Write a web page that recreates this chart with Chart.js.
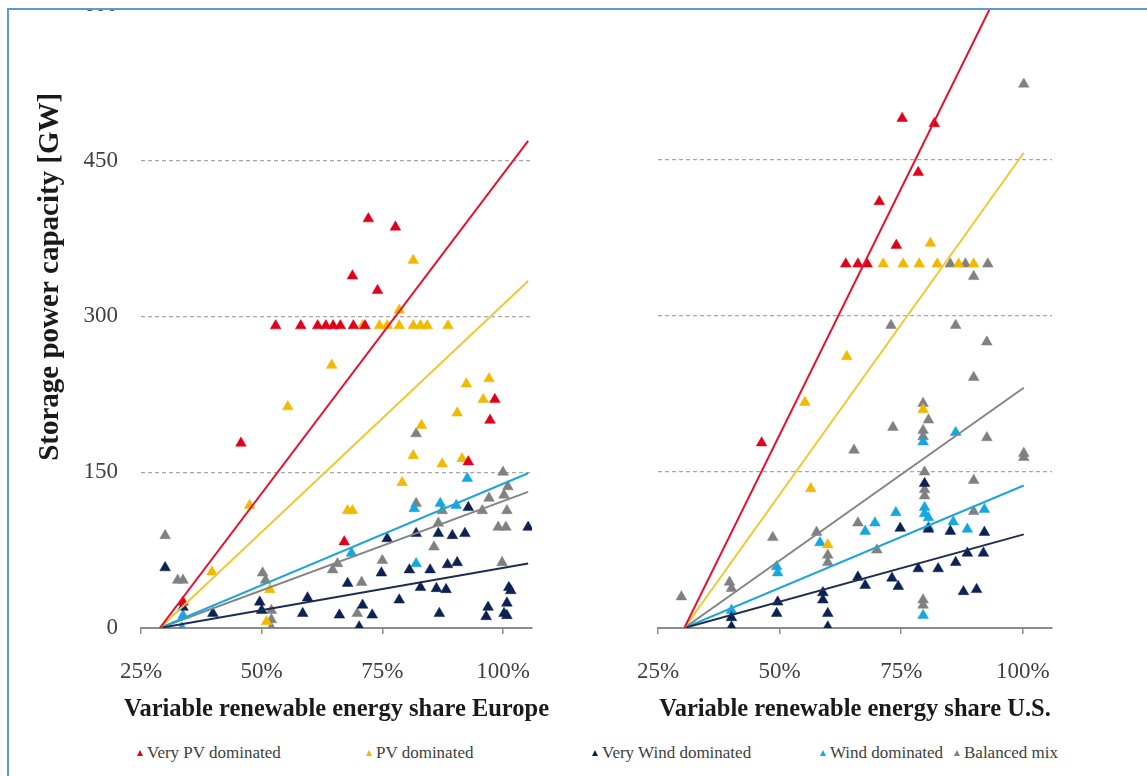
<!DOCTYPE html>
<html>
<head>
<meta charset="utf-8">
<script src="https://cdn.jsdelivr.net/npm/chart.js@4/dist/chart.umd.min.js"></script>
<style>
  html, body { margin: 0; padding: 0; background: #fff; width: 1147px; height: 776px; overflow: hidden; position: relative; font-family: "Liberation Serif", "Times New Roman", serif; }
  #eu { position: absolute; left: 10px; top: -32px; }
  #us { position: absolute; left: 570px; top: -20px; }
  #mask { position: absolute; left: 0; top: 0; width: 1147px; height: 8px; background: #fff; }
  #frameTop { position: absolute; left: 7px; top: 8px; width: 1140px; height: 2px; background: #5b9bd5; }
  #frameLeft { position: absolute; left: 7px; top: 8px; width: 2px; height: 768px; background: #5b9bd5; }
  .legend-item { position: absolute; top: 742px; font-size: 17px; color: #404040; line-height: 22px; white-space: nowrap; }
  .tri { display: inline-block; width: 0; height: 0; border-left: 3px solid transparent; border-right: 3px solid transparent; border-bottom: 6px solid; margin-right: 4px; vertical-align: 2px; }
</style>
</head>
<body>
<canvas id="eu" width="560" height="756"></canvas>
<canvas id="us" width="577" height="744"></canvas>
<div id="mask"></div>
<div id="frameTop"></div>
<div id="frameLeft"></div>
<div id="legend"></div>
<script>
// ---- axis ticks ----
const xTickValues = [25, 50, 75, 100];
const yTickValues = [0, 150, 300, 450, 600];

// ---- series labels and colours ----
const seriesNames = ['Very PV dominated', 'PV dominated', 'Very Wind dominated', 'Wind dominated', 'Balanced mix'];
const markerColors = ['#e0001a', '#f2b900', '#0c2252', '#16a7e0', '#808080'];
const lineColors = ['#e8112d', '#f2c733', '#1f2d50', '#1ea6d8', '#858585'];

// ---- Europe: [VRE share %, storage power GW] ----
const euVeryPV = [[33.7,25],[45.7,178],[52.9,291],[58.1,291],[61.6,291],[63.3,291],[64.8,291],[66.3,291],[69.0,291],[71.4,291],
  [68.8,339],[74.0,325],[72.1,394],[77.7,386],[67.1,83],[92.8,160],[97.3,200],[98.3,220]];
const euPV = [[39.7,54],[47.5,118],[55.4,213],[64.5,253],[67.8,113],[68.8,113],[70.9,291],[74.4,291],[76.0,291],[78.5,306],
  [78.5,291],[81.4,291],[82.9,291],[84.3,291],[88.6,291],[81.4,354],[79.1,140],[81.4,166],[83.1,195],[87.4,158],
  [90.5,207],[91.5,163],[92.4,235],[95.9,220],[97.1,240],[51.7,37],[51.0,6]];
const euVeryWind = [[30.0,58],[33.7,20],[39.9,14],[49.6,25],[50.0,17],[58.5,14],[59.5,29],[66.1,12.5],[67.8,43],[70.2,1],
  [70.9,22],[72.9,12.5],[74.8,53],[76.0,86],[78.5,27],[80.6,56],[82.0,91],[82.9,39],[84.9,56],[86.2,38],
  [86.6,91],[86.8,14],[88.2,37],[88.5,61],[89.5,89],[90.5,63],[92.1,91],[92.8,116],[96.5,11],[96.9,20],
  [100.2,14],[100.8,12],[100.8,24],[101.2,39],[101.6,36],[105.2,97]];
const euWind = [[33.5,0],[33.7,12],[68.6,72],[81.6,115],[82.0,62],[87.0,120],[90.3,118],[92.6,144]];
const euBalanced = [[30.0,89],[32.6,46],[33.7,46],[50.2,53],[50.8,46],[52.0,17],[52.0,8],[52.0,0],[64.7,56],[65.7,62],
  [69.8,14],[70.7,44],[75.0,65],[82.0,187],[82.0,120],[85.7,78],[86.6,101],[87.4,113],[95.7,113],[97.1,125],
  [99.8,63],[99.0,97],[100.6,97],[100.8,113],[100.2,128],[101.0,136],[100.0,150]];

// Europe trend lines: share at start/end and the fitted capacity at those points
const euTrendX = [28.9, 105.2];
const euTrendVeryPV = [0, 469];
const euTrendPV = [0, 334];
const euTrendVeryWind = [0, 62];
const euTrendWind = [0, 149];
const euTrendBalanced = [0, 131];

// ---- U.S.: [VRE share %, storage power GW] ----
const usVeryPV = [[46.3,178],[63.6,350],[66.1,350],[68.0,350],[70.5,410],[74.0,368],[75.2,490],[78.5,438],[81.8,485]];
const usPV = [[55.2,217],[56.4,134],[59.9,80],[63.8,261],[71.3,350],[75.4,350],[78.7,350],[81.0,370],[82.4,350],[86.8,350],
  [89.9,350],[79.5,210]];
const usVeryWind = [[40.1,10],[40.1,1],[49.6,25],[49.4,14],[58.9,34],[58.9,27],[59.9,14],[59.9,1],[66.1,49],[67.6,41],
  [73.1,48],[74.4,40],[74.8,96],[78.5,57],[79.8,139],[80.6,95],[82.6,57],[85.1,93],[86.2,63],[87.8,35],
  [88.6,72],[90.5,37],[91.9,72],[92.1,92]];
const usWind = [[40.1,17],[49.4,59],[49.6,53],[58.3,82],[67.6,93],[69.6,101],[73.9,111],[79.5,179],[79.8,116],[79.8,110],
  [79.5,12],[80.6,106],[80.6,97],[85.7,102],[86.2,188],[88.6,95],[92.1,114]];
const usBalanced = [[29.8,30],[39.7,44],[40.1,38],[48.6,87],[57.6,92],[59.9,70],[59.9,63],[65.3,171],[66.1,101],[70.0,75],
  [72.9,291],[73.3,193],[79.5,216],[79.5,190],[79.5,184],[80.6,200],[79.8,150],[79.8,133],[79.8,127],[79.5,27],
  [79.5,22],[85.1,350],[86.2,291],[88.2,350],[89.9,338],[89.9,241],[89.9,142],[89.9,112],[92.6,275],[92.6,183],
  [92.8,350],[100.2,164],[100.2,168],[100.2,523]];

// U.S. trend lines (the very-PV fit leaves the plot at 600 GW)
const usTrendX = [30.4, 100.2];
const usTrendVeryPVX = [30.4, 93.7];
const usTrendVeryPV = [0, 600];
const usTrendPV = [0, 457];
const usTrendVeryWind = [0, 90];
const usTrendWind = [0, 137];
const usTrendBalanced = [0, 231];

Chart.defaults.font.family = '"Liberation Serif", "Times New Roman", serif';
Chart.defaults.animation = false;

const toPoints = arr => arr.map(p => ({ x: p[0], y: p[1] }));
const toLine = (xs, ys) => xs.map((x, i) => ({ x: x, y: ys[i] }));

function scatterSets(groups) {
  return groups.map((g, i) => ({
    label: seriesNames[i],
    data: toPoints(g),
    showLine: false,
    pointStyle: 'triangle',
    pointRadius: 6.2,
    pointBackgroundColor: markerColors[i],
    pointBorderColor: markerColors[i],
    pointBorderWidth: 0.5,
    order: 2
  }));
}
function trendSets(lines) {
  return lines.map((l, i) => ({
    label: seriesNames[i] + ' trend',
    data: toLine(l[0], l[1]),
    showLine: true,
    borderColor: lineColors[i],
    borderWidth: 2,
    pointRadius: 0,
    fill: false,
    order: 1
  }));
}

function xScale() {
  return {
    type: 'linear',
    min: 25,
    max: 106,
    afterBuildTicks: s => { s.ticks = xTickValues.map(v => ({ value: v })); },
    afterFit: s => { s.height = 96; },
    ticks: { padding: 24, color: '#404040', font: { size: 23 }, callback: v => v + '%', maxRotation: 0 },
    grid: { display: true, drawOnChartArea: false, drawTicks: true, tickLength: 6, color: '#8c8c8c', lineWidth: 1.5 },
    border: { display: true, color: '#8c8c8c', width: 2 }
  };
}
function yScale(showLabels, width) {
  return {
    type: 'linear',
    min: 0,
    max: 600,
    afterBuildTicks: s => { s.ticks = yTickValues.map(v => ({ value: v })); },
    afterFit: s => { s.width = width; },
    ticks: { display: showLabels, padding: 23, color: '#404040', font: { size: 23 } },
    grid: {
      drawTicks: false,
      color: c => (c.tick && c.tick.value === 0) ? 'rgba(0,0,0,0)' : '#a8a8a8',
      lineWidth: 1.2
    },
    border: { display: false, dash: [4, 3] }
  };
}

// axis captions: the x caption sits centred under the panel and may run past the plot edges
function captions(xText, yText) {
  return {
    id: 'captions',
    afterDraw(chart) {
      const { ctx, chartArea } = chart;
      ctx.save();
      ctx.fillStyle = '#1a1a1a';
      ctx.textAlign = 'center';
      ctx.textBaseline = 'middle';
      ctx.font = 'bold 24.5px "Liberation Serif", "Times New Roman", serif';
      ctx.fillText(xText, (chartArea.left + chartArea.right) / 2, chartArea.bottom + 82);
      if (yText) {
        ctx.translate(41, chartArea.top + 272);
        ctx.rotate(-Math.PI / 2);
        ctx.font = 'bold 29px "Liberation Serif", "Times New Roman", serif';
        ctx.fillText(yText, 0, 0);
      }
      ctx.restore();
    }
  };
}

function makeChart(id, datasets, showY, yWidth, padRight, plugins) {
  return new Chart(document.getElementById(id), {
    type: 'scatter',
    data: { datasets: datasets },
    options: {
      responsive: false,
      devicePixelRatio: 1,
      layout: { padding: { top: 24, right: padRight, bottom: 0, left: 0 } },
      plugins: { legend: { display: false }, tooltip: { enabled: false } },
      scales: { x: xScale(), y: yScale(showY, yWidth) }
    },
    plugins: plugins
  });
}

const euData = scatterSets([euVeryPV, euPV, euVeryWind, euWind, euBalanced]).concat(
  trendSets([[euTrendX, euTrendVeryPV], [euTrendX, euTrendPV], [euTrendX, euTrendVeryWind], [euTrendX, euTrendWind], [euTrendX, euTrendBalanced]]));
const usData = scatterSets([usVeryPV, usPV, usVeryWind, usWind, usBalanced]).concat(
  trendSets([[usTrendVeryPVX, usTrendVeryPV], [usTrendX, usTrendPV], [usTrendX, usTrendVeryWind], [usTrendX, usTrendWind], [usTrendX, usTrendBalanced]]));

makeChart('eu', euData, true, 131, 38, [captions('Variable renewable energy share Europe', 'Storage power capacity [GW]')]);
makeChart('us', usData, false, 88, 95, [captions('Variable renewable energy share U.S.', null)]);

// legend row under both panels
const legendX = [137, 366, 592, 820, 954];
const legend = document.getElementById('legend');
seriesNames.forEach((name, i) => {
  const item = document.createElement('div');
  item.className = 'legend-item';
  item.style.left = legendX[i] + 'px';
  const t = document.createElement('span');
  t.className = 'tri';
  t.style.borderBottomColor = markerColors[i];
  item.appendChild(t);
  item.appendChild(document.createTextNode(name));
  legend.appendChild(item);
});
</script>
</body>
</html>
